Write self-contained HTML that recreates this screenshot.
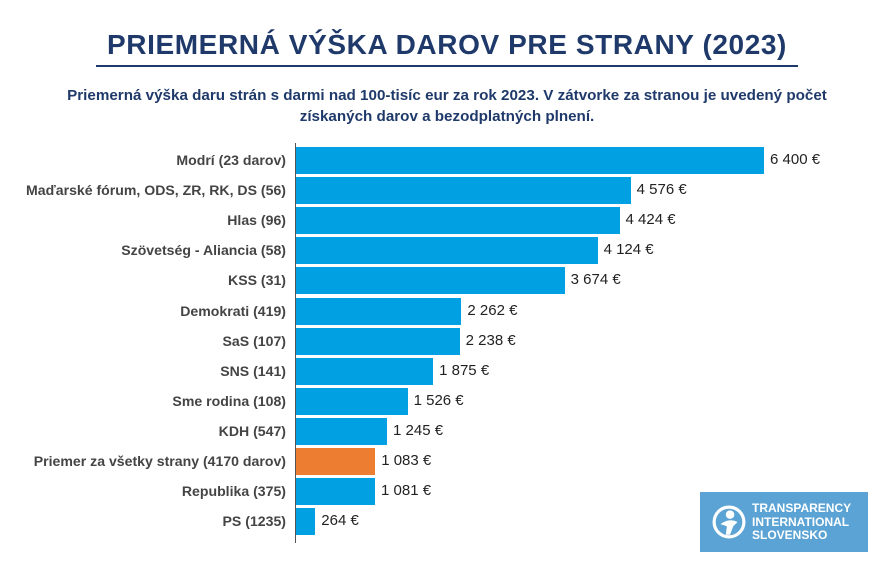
<!DOCTYPE html>
<html><head><meta charset="utf-8"><style>
body{margin:0;width:894px;height:566px;background:#fff;font-family:"Liberation Sans",sans-serif;overflow:hidden;position:relative}
.t{position:absolute;left:0;width:894px;text-align:center;color:#1f3a6a;font-weight:bold;white-space:nowrap}
.l{position:absolute;right:608px;font-size:14.1px;font-weight:bold;color:#444;text-align:right;white-space:nowrap}
.b{position:absolute;left:296px;height:27px;background:#00a0e3}
.v{position:absolute;font-size:15px;color:#222;white-space:nowrap}
</style></head><body>
<div class="t" style="top:29px;font-size:28px;letter-spacing:0.6px">PRIEMERNÁ VÝŠKA DAROV PRE STRANY (2023)</div>
<div style="position:absolute;left:96px;top:65px;width:702px;height:2px;background:#1f3a6a"></div>
<div class="t" style="top:85px;font-size:15.2px;line-height:21px">Priemerná výška daru strán s darmi nad 100-tisíc eur za rok 2023. V zátvorke za stranou je uvedený počet<br>získaných darov a bezodplatných plnení.</div>
<div style="position:absolute;left:295px;top:143px;width:1px;height:400px;background:#555"></div>
<div id="c"></div>
<div style="position:absolute;left:700px;top:492px;width:168px;height:60px;background:#5aa3d4;color:#fff">
<svg style="position:absolute;left:12px;top:13px" width="34" height="34" viewBox="0 0 32 32"><circle cx="16" cy="16" r="14" fill="none" stroke="#fff" stroke-width="3"/><circle cx="17" cy="9" r="4" fill="#fff"/><path d="M8 18 Q16 12 24 16 L20 20 L17 28 L13 28 L14 20Z" fill="#fff"/></svg>
<div style="position:absolute;left:52px;top:10px;font-size:12px;line-height:13.5px;font-weight:bold">TRANSPARENCY<br>INTERNATIONAL<br>SLOVENSKO</div></div>
<script>
var d=[["Modrí (23 darov)",6400,"6 400 €"],["Maďarské fórum, ODS, ZR, RK, DS (56)",4576,"4 576 €"],["Hlas (96)",4424,"4 424 €"],["Szövetség - Aliancia (58)",4124,"4 124 €"],["KSS (31)",3674,"3 674 €"],["Demokrati (419)",2262,"2 262 €"],["SaS (107)",2238,"2 238 €"],["SNS (141)",1875,"1 875 €"],["Sme rodina (108)",1526,"1 526 €"],["KDH (547)",1245,"1 245 €"],["Priemer za všetky strany (4170 darov)",1083,"1 083 €"],["Republika (375)",1081,"1 081 €"],["PS (1235)",264,"264 €"]];
var h="";d.forEach(function(r,i){var y=147+i*30.1,w=r[1]*0.07313;
h+='<div class="l" style="top:'+(y+5)+'px">'+r[0]+'</div><div class="b" style="top:'+y+'px;width:'+w+'px'+(i==10?';background:#ed7d31':'')+'"></div><div class="v" style="left:'+(302+w)+'px;top:'+(y+4)+'px">'+r[2]+'</div>';});
document.getElementById("c").innerHTML=h;
</script>
</body></html>
